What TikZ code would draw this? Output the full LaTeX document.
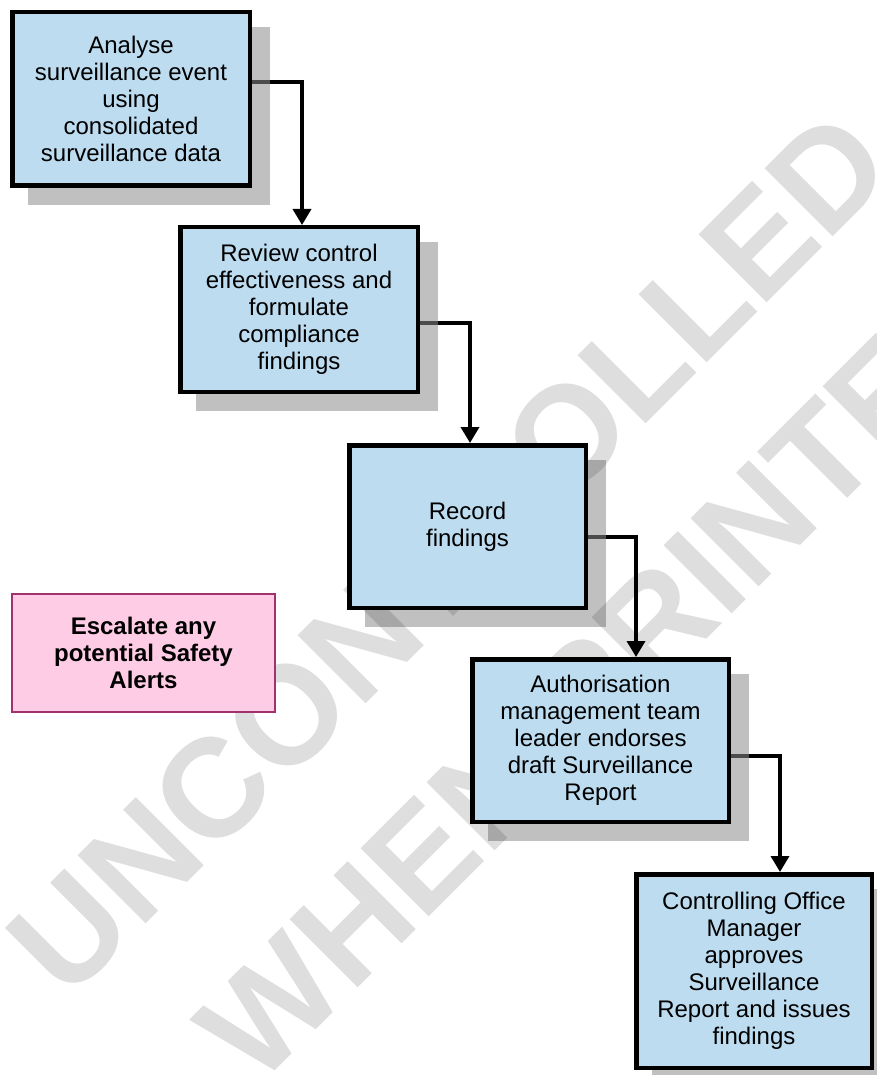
\documentclass[tikz,border=0pt]{standalone}
\usepackage{fontspec}
\setmainfont{Liberation Sans}
\usetikzlibrary{arrows.meta}
\definecolor{boxblue}{RGB}{189,220,240}
\definecolor{shadowgrey}{RGB}{140,140,140}
\definecolor{alertpink}{RGB}{255,204,230}
\definecolor{alertedge}{RGB}{160,50,110}
\pgfdeclarelayer{connectors}
\pgfdeclarelayer{shadows}
\pgfdeclarelayer{stamp}
\pgfsetlayers{connectors,shadows,stamp,main}
\begin{document}
\begin{tikzpicture}[x=1pt,y=-1pt,
  stepbox/.style={draw=black, line width=4.5pt, fill=boxblue, align=center,
    inner sep=0pt, font=\fontsize{24}{27}\selectfont},
  alertbox/.style={draw=alertedge, line width=2pt, fill=alertpink, align=center,
    inner sep=0pt, font=\bfseries\fontsize{24}{27}\selectfont},
  flow/.style={draw=black, line width=3.5pt, line join=miter,
    -{Triangle[width=18pt,length=16pt]}},
  drop/.style={fill=shadowgrey, fill opacity=0.55},
  stampword/.style={text=black, text opacity=0.13, rotate=45, inner sep=0pt,
    font=\bfseries\fontsize{140}{140}\selectfont}]
\useasboundingbox (0,0) rectangle (877,1075);

% process steps
\node[stepbox, minimum width=237.5pt, minimum height=173.5pt] (b1) at (131,99)
  {Analyse\\surveillance event\\using\\consolidated\\surveillance data};
\node[stepbox, minimum width=237.5pt, minimum height=164.5pt] (b2) at (299,309.5)
  {Review control\\effectiveness and\\formulate\\compliance\\findings};
\node[stepbox, minimum width=236.5pt, minimum height=162.5pt] (b3) at (467.5,526.5)
  {Record\\findings};
\node[stepbox, minimum width=256.5pt, minimum height=162.5pt] (b4) at (600.5,740.5)
  {Authorisation\\management team\\leader endorses\\draft Surveillance\\Report};
\node[stepbox, minimum width=235.5pt, minimum height=193.5pt] (b5) at (754,971)
  {Controlling Office\\Manager\\approves\\Surveillance\\Report and issues\\findings};

% side note
\node[alertbox, minimum width=263pt, minimum height=118pt] (alert) at (143.5,653)
  {Escalate any\\potential Safety\\Alerts};

% drop shadows
\begin{pgfonlayer}{shadows}
  \foreach \b in {b1,b2,b3,b4,b5}
    \fill[drop] ([shift={(18,17)}]\b.south west) rectangle ([shift={(18,17)}]\b.north east);
\end{pgfonlayer}

% flow connectors
\begin{pgfonlayer}{connectors}
  \draw[flow] ([yshift=17pt]b1.east) -| ([xshift=3pt]b2.north);
  \draw[flow] ([yshift=-13.5pt]b2.east) -| ([xshift=2.5pt]b3.north);
  \draw[flow] ([yshift=-10.5pt]b3.east) -| ([xshift=35.5pt]b4.north);
  \draw[flow] ([yshift=-15.5pt]b4.east) -| ([xshift=26pt]b5.north);
\end{pgfonlayer}

% watermark
\begin{pgfonlayer}{stamp}
  \node[stampword] (wm1) at (449,553) {UNCONTROLLED};
  \node[stampword] (wm2) at (606,672) {WHEN PRINTED};
\end{pgfonlayer}
\end{tikzpicture}
\end{document}
